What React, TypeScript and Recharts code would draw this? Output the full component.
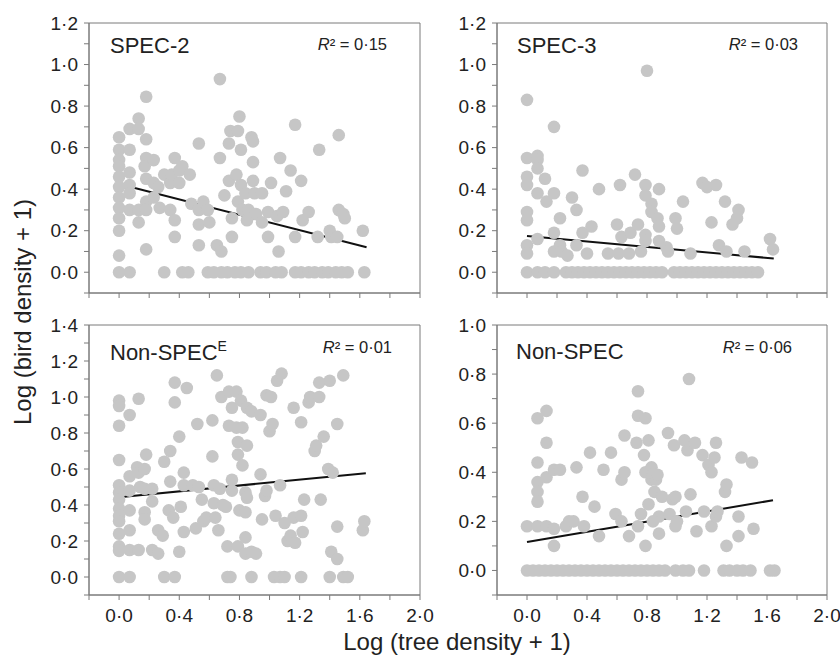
import React from "react";
import {
  ScatterChart,
  Scatter,
  XAxis,
  YAxis,
  ReferenceArea,
  ReferenceLine,
} from "recharts";

type Pt = [number, number];

// tick values
const xTicks = [-0.2, 0, 0.2, 0.4, 0.6, 0.8, 1.0, 1.2, 1.4, 1.6, 1.8, 2.0];
const yTicks12 = [-0.1, 0, 0.1, 0.2, 0.3, 0.4, 0.5, 0.6, 0.7, 0.8, 0.9, 1.0, 1.1, 1.2];
const yTicks14 = [...yTicks12, 1.3, 1.4];
const yTicks10 = [-0.1, 0, 0.1, 0.2, 0.3, 0.4, 0.5, 0.6, 0.7, 0.8, 0.9, 1.0];

// SPEC-2
const spec2Points: Pt[] = [
  [0, 0.65], [0, 0.59], [0, 0.54], [0, 0.51], [0, 0.46], [0, 0.41], [0, 0.36], [0, 0.31],
  [0, 0.26], [0, 0.2], [0, 0.08],
  [0.07, 0.69], [0.07, 0.59], [0.07, 0.48], [0.07, 0.42], [0.07, 0.38], [0.07, 0.3],
  [0.13, 0.74], [0.13, 0.69], [0.13, 0.3], [0.13, 0.24],
  [0.18, 0.845], [0.18, 0.64], [0.18, 0.55], [0.17, 0.51], [0.18, 0.45], [0.18, 0.34], [0.18, 0.3], [0.18, 0.11],
  [0.23, 0.54], [0.23, 0.43], [0.23, 0.36], [0.26, 0.41], [0.27, 0.31],
  [0.3, 0.47], [0.34, 0.43], [0.34, 0.3], [0.37, 0.25], [0.37, 0.17], [0.37, 0.55], [0.35, 0.47],
  [0.4, 0.49], [0.4, 0.43], [0.42, 0.51], [0.47, 0.47], [0.48, 0.33],
  [0.53, 0.62], [0.53, 0.23], [0.53, 0.13], [0.53, 0.3], [0.56, 0.34], [0.59, 0.3], [0.6, 0.24],
  [0.65, 0.13], [0.67, 0.55], [0.67, 0.93], [0.68, 0.1], [0.7, 0.37], [0.73, 0.62], [0.73, 0.44],
  [0.74, 0.68], [0.75, 0.26], [0.75, 0.17],
  [0.78, 0.47], [0.79, 0.68], [0.79, 0.34], [0.8, 0.75], [0.81, 0.59], [0.81, 0.42], [0.82, 0.3],
  [0.84, 0.38], [0.85, 0.25], [0.86, 0.3],
  [0.88, 0.65], [0.89, 0.63], [0.89, 0.53], [0.89, 0.44], [0.9, 0.38], [0.91, 0.28], [0.95, 0.38], [0.95, 0.24],
  [0.99, 0.17], [0.99, 0.29], [1.01, 0.43], [1.05, 0.27], [1.06, 0.1], [1.07, 0.55], [1.09, 0.29],
  [1.11, 0.39], [1.14, 0.49],
  [1.17, 0.71], [1.17, 0.17], [1.21, 0.44], [1.22, 0.25], [1.26, 0.29], [1.32, 0.17], [1.33, 0.59],
  [1.4, 0.2], [1.41, 0.17], [1.45, 0.17], [1.46, 0.66], [1.46, 0.3], [1.49, 0.28], [1.5, 0.26], [1.62, 0.2],
  [0, 0], [0.07, 0], [0.3, 0], [0.42, 0], [0.46, 0], [0.59, 0], [0.63, 0], [0.68, 0], [0.72, 0],
  [0.77, 0], [0.81, 0], [0.86, 0], [0.94, 0], [0.98, 0], [1.04, 0], [1.08, 0], [1.17, 0], [1.21, 0],
  [1.26, 0], [1.3, 0], [1.35, 0], [1.39, 0], [1.44, 0], [1.48, 0], [1.52, 0], [1.63, 0],
];
const spec2Fit: Pt[] = [[0, 0.425], [1.645, 0.12]];

// SPEC-3
const spec3Points: Pt[] = [
  [0, 0.83], [0, 0.55], [0, 0.46], [0, 0.42], [0, 0.29], [0, 0.25], [0, 0.13], [0, 0.09],
  [0.07, 0.56], [0.07, 0.54], [0.07, 0.5], [0.07, 0.38], [0.07, 0.16],
  [0.12, 0.45], [0.13, 0.34],
  [0.18, 0.7], [0.18, 0.38], [0.18, 0.19], [0.18, 0.1],
  [0.22, 0.26], [0.22, 0.13], [0.23, 0.1], [0.27, 0.08], [0.3, 0.36], [0.33, 0.3], [0.33, 0.13],
  [0.37, 0.49], [0.37, 0.19], [0.4, 0.09], [0.43, 0.22], [0.48, 0.4], [0.54, 0.09],
  [0.6, 0.23], [0.61, 0.09], [0.62, 0.42], [0.63, 0.17], [0.68, 0.09], [0.69, 0.19], [0.72, 0.47],
  [0.74, 0.23], [0.76, 0.1], [0.79, 0.42], [0.79, 0.37], [0.79, 0.18], [0.79, 0.15], [0.8, 0.97],
  [0.83, 0.33], [0.83, 0.29], [0.87, 0.26], [0.88, 0.22], [0.88, 0.15], [0.88, 0.4],
  [0.93, 0.12], [0.94, 0.1], [0.99, 0.26], [1.0, 0.21], [1.04, 0.34], [1.09, 0.09],
  [1.17, 0.43], [1.2, 0.41], [1.26, 0.42], [1.23, 0.24], [1.28, 0.13], [1.32, 0.34], [1.33, 0.1],
  [1.37, 0.23], [1.4, 0.26], [1.41, 0.3], [1.45, 0.1], [1.62, 0.16], [1.64, 0.11],
  [0, 0], [0.07, 0], [0.12, 0], [0.18, 0],
  [0.26, 0], [0.3, 0], [0.34, 0], [0.38, 0], [0.42, 0], [0.46, 0], [0.5, 0], [0.54, 0], [0.58, 0],
  [0.62, 0], [0.66, 0], [0.7, 0], [0.74, 0], [0.78, 0], [0.82, 0], [0.86, 0], [0.9, 0],
  [0.98, 0], [1.02, 0], [1.06, 0], [1.1, 0], [1.14, 0], [1.18, 0], [1.22, 0], [1.26, 0], [1.3, 0],
  [1.34, 0], [1.38, 0], [1.42, 0], [1.46, 0], [1.5, 0], [1.54, 0],
];
const spec3Fit: Pt[] = [[0, 0.175], [1.645, 0.066]];

// Non-SPEC(E)
const nonSpecEPoints: Pt[] = [
  [0, 0.98], [0, 0.95], [0, 0.84], [0, 0.65], [0, 0.51], [0, 0.47], [0, 0.43], [0, 0.38],
  [0, 0.34], [0, 0.31], [0, 0.24], [0, 0.17], [0, 0.145],
  [0.07, 0.9], [0.07, 0.56], [0.07, 0.48], [0.07, 0.37], [0.07, 0.26], [0.07, 0.15],
  [0.13, 0.99], [0.12, 0.61], [0.13, 0.58], [0.14, 0.5], [0.13, 0.15],
  [0.17, 0.6], [0.17, 0.49], [0.17, 0.36], [0.17, 0.32], [0.18, 0.68],
  [0.22, 0.49], [0.22, 0.42], [0.22, 0.15], [0.26, 0.13], [0.26, 0.26], [0.29, 0.23],
  [0.3, 0.64], [0.34, 0.7], [0.34, 0.53], [0.33, 0.37], [0.36, 0.33], [0.37, 1.08], [0.37, 0.97],
  [0.4, 0.78], [0.41, 0.39], [0.4, 0.14], [0.43, 0.58], [0.43, 0.51], [0.43, 0.25], [0.45, 1.05],
  [0.49, 0.51], [0.51, 0.27], [0.52, 0.85], [0.53, 0.5], [0.55, 0.43], [0.56, 0.31], [0.58, 0.33],
  [0.62, 0.87], [0.62, 0.67], [0.63, 0.51], [0.63, 0.41], [0.64, 0.33], [0.65, 1.12], [0.66, 0.26],
  [0.68, 1.0], [0.67, 0.49], [0.69, 0.4], [0.71, 0.39], [0.72, 0.17], [0.73, 1.03], [0.73, 0.84],
  [0.75, 0.94], [0.75, 0.54], [0.75, 0.48], [0.78, 1.03], [0.78, 0.83], [0.79, 0.75], [0.79, 0.68],
  [0.79, 0.17], [0.81, 0.98], [0.82, 0.83], [0.82, 0.62], [0.8, 0.37], [0.84, 0.36], [0.84, 0.47],
  [0.84, 0.13], [0.85, 0.44], [0.84, 0.22], [0.85, 0.73], [0.85, 0.94], [0.88, 0.92], [0.88, 0.14],
  [0.91, 0.13], [0.94, 0.9], [0.94, 0.57], [0.95, 0.32], [0.97, 0.45], [0.98, 0.48], [1.0, 0.81],
  [0.98, 1.01], [1.01, 1.0], [1.02, 0.85], [1.04, 0.34], [1.05, 1.09], [1.08, 1.13], [1.07, 0.51],
  [1.1, 0.3], [1.12, 0.2], [1.14, 0.23], [1.17, 0.19], [1.16, 0.94], [1.16, 0.33], [1.21, 0.34],
  [1.21, 0.86], [1.22, 0.25], [1.23, 0.43], [1.26, 0.97], [1.27, 1.0], [1.3, 0.7], [1.31, 0.73],
  [1.33, 1.0], [1.33, 1.08], [1.34, 0.43], [1.36, 0.78], [1.39, 0.6], [1.4, 1.09], [1.41, 0.14],
  [1.42, 0.58], [1.45, 0.85], [1.45, 0.1], [1.45, 0.28], [1.49, 1.12], [1.62, 0.26], [1.63, 0.31],
  [0, 0], [0.07, 0], [0.3, 0], [0.37, 0], [0.72, 0], [0.74, 0], [0.88, 0], [1.03, 0], [1.07, 0],
  [1.1, 0], [1.21, 0], [1.4, 0], [1.49, 0], [1.52, 0],
];
const nonSpecEFit: Pt[] = [[0, 0.443], [1.64, 0.577]];

// Non-SPEC
const nonSpecPoints: Pt[] = [
  [0, 0.18], [0.07, 0.62], [0.07, 0.44], [0.07, 0.36], [0.07, 0.32], [0.07, 0.28], [0.07, 0.18],
  [0.13, 0.65], [0.13, 0.52], [0.13, 0.38], [0.13, 0.18], [0.18, 0.17], [0.18, 0.1], [0.18, 0.41],
  [0.22, 0.41], [0.26, 0.18], [0.28, 0.2], [0.31, 0.2], [0.33, 0.42], [0.37, 0.3], [0.38, 0.18],
  [0.42, 0.48], [0.45, 0.26], [0.48, 0.14], [0.51, 0.41], [0.56, 0.48], [0.59, 0.23], [0.63, 0.37],
  [0.65, 0.55], [0.65, 0.4], [0.63, 0.2], [0.68, 0.14], [0.73, 0.52], [0.74, 0.73], [0.74, 0.63],
  [0.76, 0.23], [0.74, 0.18], [0.78, 0.47], [0.79, 0.62], [0.79, 0.4], [0.79, 0.1], [0.81, 0.53],
  [0.81, 0.27], [0.83, 0.42], [0.83, 0.37], [0.84, 0.39], [0.85, 0.32], [0.86, 0.37], [0.87, 0.39],
  [0.88, 0.15], [0.88, 0.22], [0.84, 0.2], [0.9, 0.3], [0.94, 0.56], [0.95, 0.23], [0.97, 0.29],
  [0.98, 0.51], [0.99, 0.3], [0.99, 0.18], [1.0, 0.2], [1.05, 0.53], [1.06, 0.24], [1.07, 0.49],
  [1.08, 0.78], [1.09, 0.31], [1.12, 0.52], [1.13, 0.16], [1.17, 0.47], [1.18, 0.24], [1.21, 0.43],
  [1.23, 0.4], [1.23, 0.18], [1.25, 0.46], [1.26, 0.52], [1.26, 0.22], [1.27, 0.24], [1.32, 0.32],
  [1.33, 0.35], [1.33, 0.1], [1.41, 0.22], [1.41, 0.14], [1.43, 0.46], [1.5, 0.44], [1.51, 0.17],
  [0, 0], [0.04, 0], [0.08, 0], [0.12, 0], [0.16, 0], [0.2, 0], [0.24, 0], [0.28, 0], [0.32, 0],
  [0.36, 0], [0.4, 0], [0.44, 0], [0.48, 0], [0.52, 0], [0.56, 0], [0.6, 0], [0.64, 0], [0.68, 0],
  [0.72, 0], [0.76, 0], [0.8, 0], [0.84, 0], [0.88, 0], [0.92, 0],
  [0.99, 0], [1.04, 0], [1.08, 0], [1.18, 0], [1.31, 0], [1.35, 0], [1.4, 0], [1.44, 0], [1.49, 0],
  [1.62, 0], [1.65, 0],
];
const nonSpecFit: Pt[] = [[0, 0.116], [1.64, 0.286]];

const FONT = "'Liberation Sans', Arial, Helvetica, sans-serif";
const AXIS = "#7a7a7a";
const DOT = "#c6c6c6";

const fmt = (step: number) => (v: number) =>
  v >= -1e-9 && Math.abs(v / step - Math.round(v / step)) < 1e-6
    ? v.toFixed(1).replace(".", "·")
    : "";

const Dot = (props: any) => <circle cx={props.cx} cy={props.cy} r={6.3} fill={DOT} />;

type PanelProps = {
  left: number;
  top: number;
  width: number;
  height: number;
  margin: { top: number; right: number; bottom: number; left: number };
  yWidth: number;
  xHeight: number;
  yTicks: number[];
  points: Pt[];
  fit: Pt[];
  xLabels: boolean;
};

function Panel(p: PanelProps) {
  const yMax = p.yTicks[p.yTicks.length - 1];
  const data = p.points.map(([x, y]) => ({ x, y }));
  return (
    <div style={{ position: "absolute", left: p.left, top: p.top }}>
      <ScatterChart width={p.width} height={p.height} margin={p.margin}>
        <XAxis
          type="number"
          dataKey="x"
          domain={[-0.2, 2.0]}
          ticks={xTicks}
          interval={0}
          height={p.xHeight}
          stroke={AXIS}
          tickSize={5}
          tickMargin={9}
          tickFormatter={p.xLabels ? fmt(0.4) : () => ""}
          tick={{ fill: "#222", fontSize: 19, fontFamily: FONT }}
          allowDataOverflow
        />
        <YAxis
          type="number"
          dataKey="y"
          domain={[-0.1, yMax]}
          ticks={p.yTicks}
          interval={0}
          width={p.yWidth}
          stroke={AXIS}
          tickSize={5}
          tickMargin={6}
          tickFormatter={fmt(0.2)}
          tick={{ fill: "#222", fontSize: 19, fontFamily: FONT }}
          allowDataOverflow
        />
        <ReferenceArea
          x1={-0.2}
          x2={2.0}
          y1={-0.1}
          y2={yMax}
          fill="none"
          stroke={AXIS}
          strokeWidth={1}
          ifOverflow="visible"
        />
        <Scatter data={data} shape={Dot} isAnimationActive={false} />
        <ReferenceLine
          segment={[
            { x: p.fit[0][0], y: p.fit[0][1] },
            { x: p.fit[1][0], y: p.fit[1][1] },
          ]}
          stroke="#111"
          strokeWidth={2}
        />
      </ScatterChart>
    </div>
  );
}

function R2({ x, y, value }: { x: number; y: number; value: string }) {
  return (
    <text x={x} y={y} textAnchor="end" fontSize={16.5} fontFamily={FONT} fill="#222">
      <tspan fontStyle="italic">R</tspan>
      <tspan>{"² = " + value}</tspan>
    </text>
  );
}

export default function App() {
  return (
    <div style={{ position: "absolute", left: 0, top: 0, width: 840, height: 659, background: "#fff" }}>
      <Panel
        left={0} top={0} width={440} height={300}
        margin={{ top: 23, right: 20, bottom: 0, left: 0 }}
        yWidth={89} xHeight={7} yTicks={yTicks12}
        points={spec2Points} fit={spec2Fit} xLabels={false}
      />
      <Panel
        left={430} top={0} width={410} height={300}
        margin={{ top: 23, right: 13, bottom: 0, left: 0 }}
        yWidth={67} xHeight={7} yTicks={yTicks12}
        points={spec3Points} fit={spec3Fit} xLabels={false}
      />
      <Panel
        left={0} top={300} width={440} height={340}
        margin={{ top: 25, right: 20, bottom: 0, left: 0 }}
        yWidth={89} xHeight={45} yTicks={yTicks14}
        points={nonSpecEPoints} fit={nonSpecEFit} xLabels={true}
      />
      <Panel
        left={430} top={300} width={410} height={340}
        margin={{ top: 25, right: 13, bottom: 0, left: 0 }}
        yWidth={67} xHeight={45} yTicks={yTicks10}
        points={nonSpecPoints} fit={nonSpecFit} xLabels={true}
      />
      <svg
        width={840}
        height={659}
        style={{ position: "absolute", left: 0, top: 0, pointerEvents: "none" }}
      >
        <text x={110} y={53} fontSize={22} fontFamily={FONT} fill="#222">SPEC-2</text>
        <text x={517} y={53} fontSize={22} fontFamily={FONT} fill="#222">SPEC-3</text>
        <text x={110} y={360} fontSize={22} fontFamily={FONT} fill="#222">
          Non-SPEC<tspan fontSize={14} dy={-9}>E</tspan>
        </text>
        <text x={516} y={359} fontSize={22} fontFamily={FONT} fill="#222">Non-SPEC</text>
        <R2 x={387} y={50} value="0·15" />
        <R2 x={798} y={50} value="0·03" />
        <R2 x={392} y={353} value="0·01" />
        <R2 x={792} y={353} value="0·06" />
        <text
          transform="rotate(-90)"
          x={-312}
          y={31}
          textAnchor="middle"
          fontSize={24}
          fontFamily={FONT}
          fill="#222"
        >
          Log (bird density + 1)
        </text>
        <text x={457} y={650} textAnchor="middle" fontSize={24} fontFamily={FONT} fill="#222">
          Log (tree density + 1)
        </text>
      </svg>
    </div>
  );
}
